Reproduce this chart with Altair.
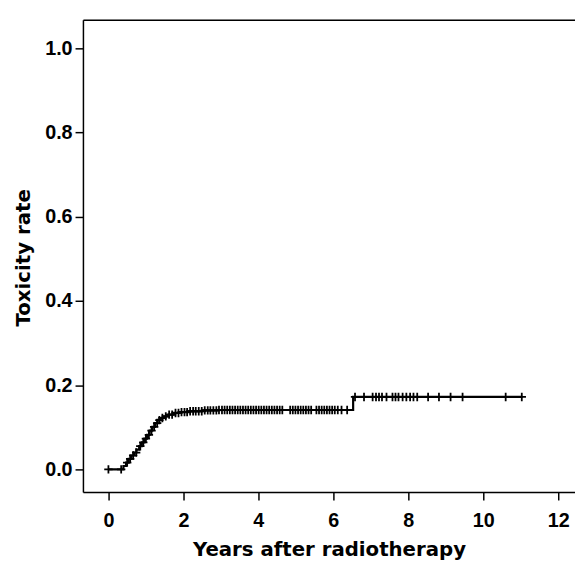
import altair as alt
import pandas as pd

# Step curve (cumulative toxicity rate)
step_times = [0.00, 0.40, 0.47, 0.54, 0.61, 0.68, 0.75, 0.82, 0.89, 0.96, 1.03, 1.10,
              1.17, 1.24, 1.31, 1.39, 1.48, 1.60, 1.74, 1.90, 2.15, 2.50, 2.90, 6.53, 11.05]
step_rates = [0.000, 0.008, 0.016, 0.025, 0.033, 0.040, 0.047, 0.055, 0.064, 0.073, 0.082, 0.092,
              0.101, 0.110, 0.117, 0.122, 0.126, 0.130, 0.134, 0.136, 0.138, 0.140, 0.141, 0.172, 0.172]

# Censoring times
censor_times = [0.00, 0.34,
                0.50, 0.58, 0.66, 0.74, 0.85, 0.93, 1.00, 1.08, 1.15, 1.22, 1.30, 1.36, 1.44,
                1.53, 1.62, 1.70, 1.79, 1.87, 1.95, 2.03, 2.10, 2.18, 2.26, 2.33, 2.41, 2.49,
                2.57, 2.65, 2.72, 2.80, 2.88, 2.95,
                3.03, 3.10, 3.17, 3.24, 3.31, 3.38, 3.45, 3.52, 3.59, 3.66, 3.73, 3.80, 3.87,
                3.94, 4.01, 4.08, 4.15, 4.22, 4.29, 4.36, 4.43, 4.50, 4.57, 4.64, 4.85, 4.92,
                4.99, 5.06, 5.13, 5.20, 5.27, 5.34, 5.41, 5.55, 5.62, 5.69, 5.76, 5.83, 5.90,
                5.97, 6.04, 6.12, 6.22, 6.37,
                6.58, 6.82, 7.05, 7.14, 7.22, 7.30, 7.42, 7.58, 7.66, 7.74, 7.85, 7.95, 8.05,
                8.14, 8.24, 8.53, 8.82, 9.13, 9.45, 10.60, 11.03]

x_ticks = [0, 2, 4, 6, 8, 10, 12]
y_ticks = [0.0, 0.2, 0.4, 0.6, 0.8, 1.0]
x_domain = [-0.68, 12.45]
y_domain = [-0.054, 1.068]


def rate_at(t):
    r = 0.0
    for st, sr in zip(step_times, step_rates):
        if st <= t:
            r = sr
    return r


curve = pd.DataFrame({"t": step_times, "rate": step_rates})
cens = pd.DataFrame({"t": censor_times, "rate": [rate_at(t) for t in censor_times]})

LFONT = "Liberation Sans"
TFONT = "DejaVu Sans"
FS = 20

xs = alt.Scale(domain=x_domain, nice=False, zero=False)
ys = alt.Scale(domain=y_domain, nice=False, zero=False)

x_axis = alt.Axis(orient="bottom", values=x_ticks, format="d",
                  title="Years after radiotherapy",
                  grid=False, tickSize=8, tickWidth=1.5, domainWidth=1.5,
                  domainColor="black", tickColor="black", labelPadding=11,
                  labelFontSize=FS, labelFont=LFONT, labelFontWeight="bold",
                  labelColor="black", titleFontSize=FS, titleFont=TFONT,
                  titleFontWeight="bold", titleColor="black", titlePadding=9)
y_axis = alt.Axis(values=y_ticks, format=".1f", title="Toxicity rate",
                  grid=False, tickSize=8, tickWidth=1.5, domainWidth=1.5,
                  domainColor="black", tickColor="black", labelPadding=3,
                  labelFontSize=FS, labelFont=LFONT, labelFontWeight="bold",
                  labelColor="black", titleFontSize=FS, titleFont=TFONT,
                  titleFontWeight="bold", titleColor="black", titlePadding=11,
                  titleY=241)

line = alt.Chart(curve).mark_line(interpolate="step-after", color="black",
                                  strokeWidth=2.2).encode(
    x=alt.X("t:Q", scale=xs, axis=x_axis),
    y=alt.Y("rate:Q", scale=ys, axis=y_axis),
)

marks = alt.Chart(cens).mark_point(shape="M-1,0H1M0,-1V1", size=72, filled=False,
                                   color="black", strokeWidth=1.8, opacity=1).encode(
    x=alt.X("t:Q", scale=xs, axis=None),
    y=alt.Y("rate:Q", scale=ys),
)

top_frame = alt.Chart(curve).mark_line(opacity=0).encode(
    x=alt.X("t:Q", scale=xs,
            axis=alt.Axis(orient="top", labels=False, ticks=False, title=None,
                          grid=False, domainColor="black", domainWidth=1.5)),
    y=alt.Y("rate:Q", scale=ys),
)

chart = alt.layer(line, marks, top_frame).resolve_axis(x="independent").properties(
    width=499, height=479,
    autosize=alt.AutoSizeParams(type="none"),
    padding={"left": 76, "top": 8, "right": 0, "bottom": 68},
).configure_view(stroke=None).configure(background="white")

chart.save("out.html", embed_options={"renderer": "svg", "actions": False})
